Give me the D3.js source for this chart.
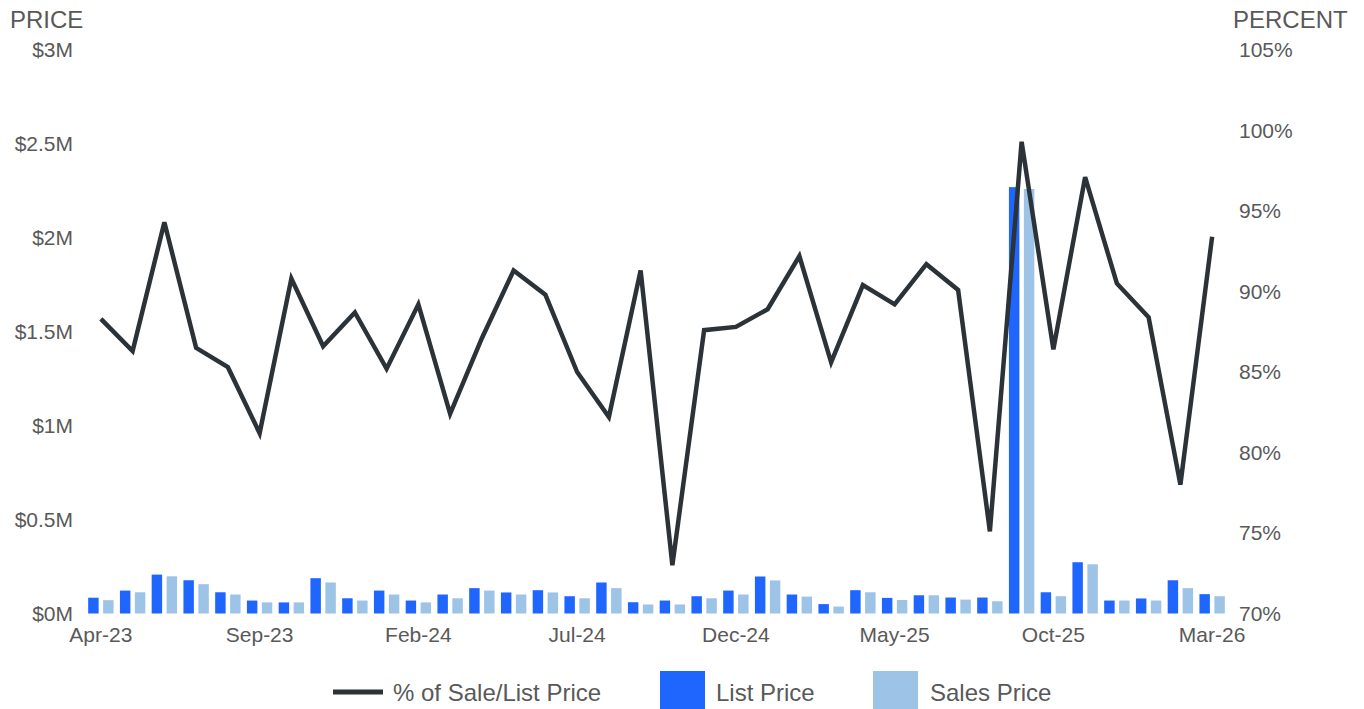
<!doctype HTML>
<html>
<head>
    <script src="https://d3js.org/d3.v7.min.js"></script>
    <style>
        body { margin: 0; background: #fff; }
        text { font-family: "Liberation Sans", Arial, sans-serif; fill: #595959; }
    </style>
</head>
<body>
<script>
    var canvasWidth = 1364;
    var canvasHeight = 709;

    // months shown on the x axis (one per bar group)
    var months = ["Apr-23","May-23","Jun-23","Jul-23","Aug-23","Sep-23","Oct-23","Nov-23","Dec-23",
        "Jan-24","Feb-24","Mar-24","Apr-24","May-24","Jun-24","Jul-24","Aug-24","Sep-24","Oct-24",
        "Nov-24","Dec-24","Jan-25","Feb-25","Mar-25","Apr-25","May-25","Jun-25","Jul-25","Aug-25",
        "Sep-25","Oct-25","Nov-25","Dec-25","Jan-26","Feb-26","Mar-26"];

    // labels actually printed under the axis
    var xTickLabels = ["Apr-23","Sep-23","Feb-24","Jul-24","Dec-24","May-25","Oct-25","Mar-26"];

    // list price and sales price, in dollars
    var listPrice = [84000,122000,207000,177000,113000,69000,59000,188000,81000,122000,69000,101000,
        135000,112000,124000,92000,165000,60000,69000,92000,122000,197000,101000,50000,
        124000,83000,97000,85000,85000,2270000,113000,273000,69000,80000,177000,103000];
    var salesPrice = [71000,113000,198000,156000,101000,59000,59000,165000,69000,101000,59000,81000,
        122000,101000,112000,81000,135000,48000,48000,81000,101000,176000,90000,37000,
        113000,72000,97000,74000,65000,2260000,92000,262000,69000,69000,135000,92000];

    // % of sale / list price
    var pctSaleList = [88.3,86.3,94.3,86.5,85.3,81.2,90.8,86.6,88.7,85.2,89.2,82.4,
        87.1,91.3,89.8,85.0,82.2,91.3,73.0,87.6,87.8,88.9,92.2,85.6,
        90.4,89.2,91.7,90.1,75.1,99.3,86.4,97.1,90.5,88.4,78.0,93.4];

    var priceTicks = [0, 500000, 1000000, 1500000, 2000000, 2500000, 3000000];
    var pctTicks = [70, 75, 80, 85, 90, 95, 100, 105];

    var seriesKeys = ["List Price", "Sales Price"];
    var colors = {"List Price": "#1f66ff", "Sales Price": "#9dc3e6"};
    var lineColor = "#2c3338";

    var data = months.map(function(m, i) {
        return {month: m, list: listPrice[i], sales: salesPrice[i], pct: pctSaleList[i]};
    });

    var svg = d3.select("body").append("svg")
        .attr("width", canvasWidth)
        .attr("height", canvasHeight);

    var xScale = d3.scaleBand()
        .domain(months)
        .range([85, 1228])
        .paddingInner(0.2)
        .paddingOuter(0.1);

    var xSub = d3.scaleBand()
        .domain(seriesKeys)
        .range([0, xScale.bandwidth()])
        .paddingInner(0.3);

    var yLeft = d3.scaleLinear().domain([0, 3000000]).range([613.5, 50]);
    var yRight = d3.scaleLinear().domain([70, 105]).range([613.5, 50]);

    // left axis labels
    var leftAxis = svg.append("g")
        .attr("transform", "translate(73,0)")
        .call(d3.axisLeft(yLeft).tickValues(priceTicks).tickSize(0).tickPadding(0)
            .tickFormat(function(d) { return d === 0 ? "$0M" : "$" + d3.format("~g")(d / 1e6) + "M"; }));
    leftAxis.select(".domain").remove();
    leftAxis.selectAll("text").attr("font-size", "21px").attr("font-family", null);

    // right axis labels
    var rightAxis = svg.append("g")
        .attr("transform", "translate(1239,0)")
        .call(d3.axisRight(yRight).tickValues(pctTicks).tickSize(0).tickPadding(0)
            .tickFormat(function(d) { return d + "%"; }));
    rightAxis.select(".domain").remove();
    rightAxis.selectAll("text").attr("font-size", "21px").attr("font-family", null);

    // bottom axis labels
    var bottomAxis = svg.append("g")
        .attr("transform", "translate(0,627)")
        .call(d3.axisBottom(xScale).tickValues(xTickLabels).tickSize(0).tickPadding(0));
    bottomAxis.select(".domain").remove();
    bottomAxis.selectAll("text").attr("font-size", "21px").attr("font-family", null);

    svg.selectAll(".tick text").style("fill", "#595959");

    // axis titles
    svg.append("text").attr("x", 10).attr("y", 28).attr("font-size", "24px").text("PRICE");
    svg.append("text").attr("x", 1233).attr("y", 28).attr("font-size", "24px").text("PERCENT");

    // bars
    var groups = svg.selectAll(".grp")
        .data(data)
        .enter().append("g")
        .attr("class", "grp")
        .attr("transform", function(d) { return "translate(" + xScale(d.month) + ",0)"; });

    groups.selectAll("rect")
        .data(function(d) { return [{key: "List Price", value: d.list}, {key: "Sales Price", value: d.sales}]; })
        .enter().append("rect")
        .attr("x", function(d) { return xSub(d.key); })
        .attr("y", function(d) { return yLeft(d.value); })
        .attr("width", xSub.bandwidth())
        .attr("height", function(d) { return yLeft(0) - yLeft(d.value); })
        .attr("fill", function(d) { return colors[d.key]; });

    // percent line
    var line = d3.line()
        .x(function(d) { return xScale(d.month) + xScale.bandwidth() / 2; })
        .y(function(d) { return yRight(d.pct); });

    svg.append("path")
        .datum(data)
        .attr("d", line)
        .attr("fill", "none")
        .attr("stroke", lineColor)
        .attr("stroke-width", 4.5)
        .attr("stroke-linejoin", "miter");

    // legend
    var legend = svg.append("g");
    legend.append("line")
        .attr("x1", 333).attr("x2", 383).attr("y1", 692).attr("y2", 692)
        .attr("stroke", lineColor).attr("stroke-width", 5);
    legend.append("text").attr("x", 393).attr("y", 701).attr("font-size", "24px").text("% of Sale/List Price");
    legend.append("rect").attr("x", 660).attr("y", 671).attr("width", 45).attr("height", 40).attr("fill", colors["List Price"]);
    legend.append("text").attr("x", 716).attr("y", 701).attr("font-size", "24px").text("List Price");
    legend.append("rect").attr("x", 873).attr("y", 671).attr("width", 45).attr("height", 40).attr("fill", colors["Sales Price"]);
    legend.append("text").attr("x", 930).attr("y", 701).attr("font-size", "24px").text("Sales Price");
</script>
</body>
</html>
